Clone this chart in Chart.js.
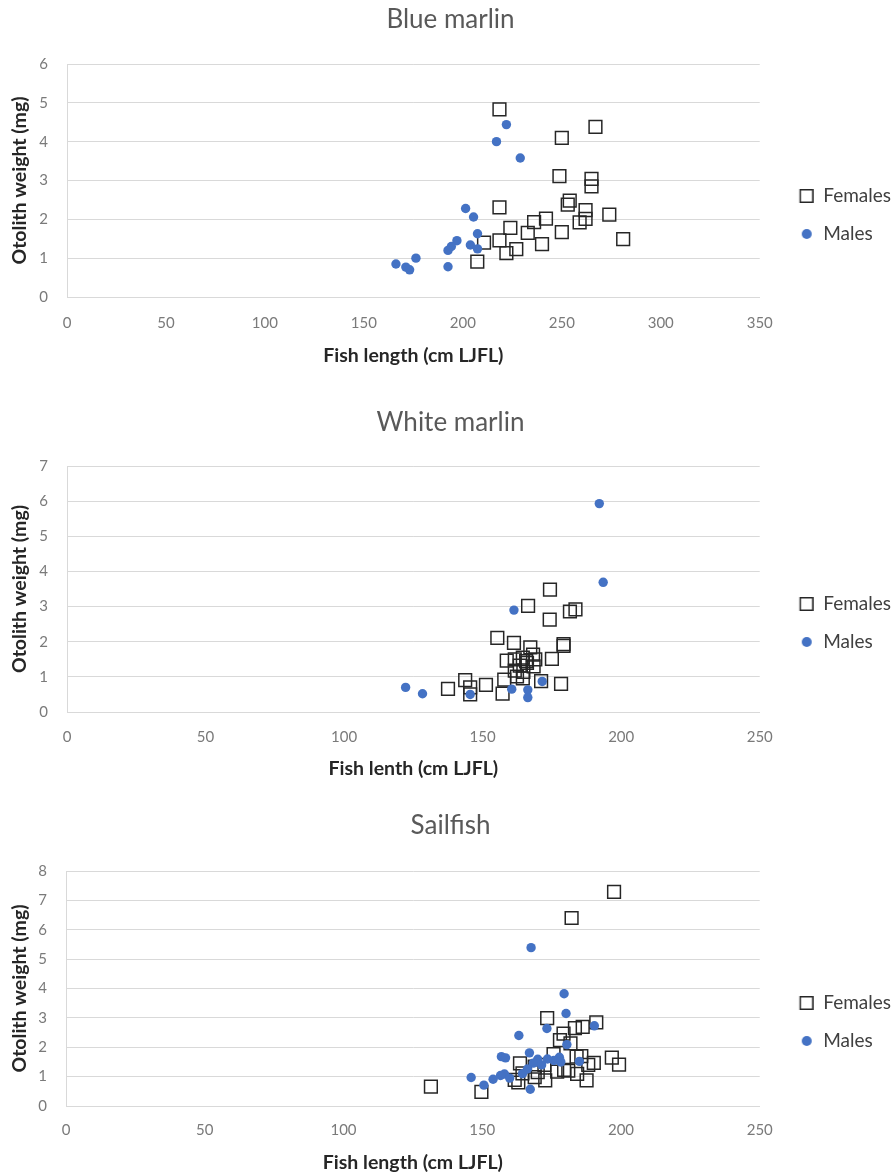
<!DOCTYPE html>
<html>
<head>
<meta charset="utf-8">
<script src="https://cdn.jsdelivr.net/npm/chart.js@4"></script>
<style>
  body { margin: 0; background: #fff; }
  canvas { position: absolute; left: 0; }
</style>
</head>
<body>
<canvas id="blue" width="893" height="380" style="top:0px"></canvas>
<canvas id="white" width="893" height="395" style="top:395px"></canvas>
<canvas id="sail" width="893" height="379" style="top:795px"></canvas>
<script>
// --- data ---
const seriesNames = ['Females', 'Males'];

const blueFemLen = [218.5, 267, 250, 248.8, 265, 265, 254, 253, 218.5, 262, 274, 242, 236, 262, 259, 224, 232.8, 250, 218.5, 210.7, 281, 240, 227, 222, 207.3];
const blueFemOto = [4.83, 4.38, 4.10, 3.11, 3.04, 2.85, 2.48, 2.38, 2.31, 2.24, 2.12, 2.02, 1.93, 2.01, 1.92, 1.78, 1.65, 1.67, 1.46, 1.40, 1.49, 1.36, 1.23, 1.13, 0.91];
const blueMaleLen = [222, 217, 229, 201.4, 205.4, 207.4, 197, 194.2, 192.5, 203.8, 207.4, 176.3, 166.2, 171.2, 173.1, 192.5];
const blueMaleOto = [4.44, 4.00, 3.58, 2.28, 2.06, 1.63, 1.45, 1.30, 1.20, 1.34, 1.24, 1.00, 0.85, 0.77, 0.70, 0.78];

const whiteFemLen = [174.3, 166.4, 183.5, 181.5, 174.2, 155.3, 161.3, 179.2, 179.2, 167.2, 168.2, 175, 164.5, 158.7, 161.6, 165.7, 168.4, 163.4, 161.6, 162.4, 164.5, 157.8, 143.7, 171.1, 178.3, 151.2, 137.5, 145.5, 145.5, 157.2, 166, 169, 164.7];
const whiteFemOto = [3.48, 3.02, 2.92, 2.86, 2.63, 2.11, 1.97, 1.93, 1.88, 1.84, 1.63, 1.51, 1.55, 1.46, 1.50, 1.45, 1.30, 1.32, 1.18, 1.01, 0.96, 0.92, 0.91, 0.88, 0.80, 0.77, 0.66, 0.70, 0.50, 0.52, 1.40, 1.50, 1.14];
const whiteMaleLen = [192.1, 193.5, 161.3, 122.2, 128.3, 145.5, 160.5, 166.3, 166.3, 171.5];
const whiteMaleOto = [5.93, 3.69, 2.90, 0.70, 0.52, 0.50, 0.65, 0.63, 0.41, 0.87];

const sailFemLen = [197.5, 182.2, 173.4, 191.1, 186.2, 183.4, 179.3, 178, 181.8, 175.7, 185.7, 196.7, 199.3, 190.2, 188.2, 163.6, 168.9, 172.4, 179.5, 181, 184.2, 187.6, 172.7, 168.9, 163, 164.5, 131.5, 149.7, 161.7, 177, 184, 170];
const sailFemOto = [7.29, 6.40, 2.99, 2.85, 2.69, 2.65, 2.46, 2.24, 2.13, 1.77, 1.70, 1.65, 1.41, 1.47, 1.40, 1.45, 1.34, 1.40, 1.23, 1.20, 1.09, 0.87, 0.87, 0.98, 0.80, 1.11, 0.66, 0.48, 0.89, 1.17, 1.68, 1.15];
const sailMaleLen = [167.6, 179.5, 180.2, 173.3, 190.4, 163.2, 180.5, 167, 156.9, 158.4, 177.8, 170, 168.4, 185, 175.8, 166.3, 164.5, 158, 146, 150.6, 153.9, 156.6, 159.9, 167.3, 171.4, 173.5, 178.3];
const sailMaleOto = [5.39, 3.82, 3.15, 2.64, 2.73, 2.40, 2.09, 1.81, 1.68, 1.64, 1.66, 1.59, 1.46, 1.52, 1.55, 1.26, 1.10, 1.09, 0.97, 0.71, 0.91, 1.04, 0.95, 0.57, 1.40, 1.60, 1.50];

// --- helpers ---
const FONT = 'Lato, "Open Sans", sans-serif';
const ICON_W = 35;

function toPoints(xs, ys) {
  return xs.map((x, i) => ({ x: x, y: ys[i] }));
}

// legend markers: square outline and blue dot, pushed to the right of a wider box
function legendIcon(kind) {
  const c = document.createElement('canvas');
  c.width = ICON_W;
  c.height = 14;
  const g = c.getContext('2d');
  if (kind === 'rect') {
    g.strokeStyle = '#262626';
    g.lineWidth = 1.5;
    g.strokeRect(ICON_W - 13.5, 0.75, 12.5, 12.5);
  } else {
    g.fillStyle = '#4472C4';
    g.beginPath();
    g.arc(ICON_W - 7, 7, 5, 0, Math.PI * 2);
    g.fill();
  }
  return c;
}
const icons = [legendIcon('rect'), legendIcon('circle')];

function makeChart(id, o) {
  new Chart(document.getElementById(id), {
    type: 'scatter',
    data: {
      datasets: [{
        label: seriesNames[0],
        data: toPoints(o.femLen, o.femOto),
        pointStyle: 'rect',
        pointRadius: 9,
        pointHoverRadius: 9,
        borderWidth: 1.5,
        borderColor: '#262626',
        backgroundColor: 'rgba(255,255,255,0)',
        order: 1
      }, {
        label: seriesNames[1],
        data: toPoints(o.maleLen, o.maleOto),
        pointStyle: 'circle',
        pointRadius: 4.7,
        pointHoverRadius: 4.7,
        borderWidth: 0,
        backgroundColor: '#4472C4',
        order: 0
      }]
    },
    options: {
      responsive: false,
      animation: false,
      layout: { padding: { left: 0, right: -8, top: 0, bottom: 0 } },
      scales: {
        x: {
          min: 0, max: o.xMax,
          ticks: { stepSize: 50, padding: o.xTickPad, color: '#7a7a7a', font: { family: FONT, size: 15 } },
          grid: { display: false, drawTicks: false },
          border: { display: true, color: '#d9d9d9' },
          title: { display: true, text: o.xTitle, color: '#262626', padding: { top: 0, bottom: o.xTitlePad }, font: { family: FONT, size: 19.5, weight: 'bold' } },
          afterFit: s => { s.height = o.xHeight; }
        },
        y: {
          min: 0, max: o.yMax,
          ticks: { stepSize: 1, padding: 19, color: '#7a7a7a', font: { family: FONT, size: 15 } },
          grid: { color: '#d9d9d9', drawTicks: false },
          border: { display: true, color: '#d9d9d9' },
          title: { display: true, text: 'Otolith weight (mg)', color: '#262626', padding: { top: 8, bottom: 0 }, font: { family: FONT, size: 19.5, weight: 'bold' } },
          afterFit: s => { s.width = o.yWidth; }
        }
      },
      plugins: {
        title: {
          display: true, text: o.title, color: '#595959',
          font: { family: FONT, size: 26, weight: 'normal' },
          padding: { top: o.titleTop, bottom: o.titleBottom }
        },
        legend: {
          position: 'right',
          title: { display: true, text: ' ', font: { size: 10 }, padding: { top: o.legendShift, bottom: 0 } },
          labels: {
            usePointStyle: true,
            pointStyleWidth: ICON_W,
            padding: 19,
            color: '#404040',
            font: { family: FONT, size: 19 },
            generateLabels: chart => chart.data.datasets.map((ds, i) => ({
              text: ds.label,
              pointStyle: icons[i],
              fillStyle: 'rgba(0,0,0,0)',
              strokeStyle: 'rgba(0,0,0,0)',
              lineWidth: 0,
              fontColor: '#404040',
              hidden: !chart.isDatasetVisible(i),
              datasetIndex: i
            }))
          }
        },
        tooltip: { enabled: false }
      }
    }
  });
}

makeChart('blue', {
  title: 'Blue marlin', xTitle: 'Fish length (cm LJFL)',
  femLen: blueFemLen, femOto: blueFemOto, maleLen: blueMaleLen, maleOto: blueMaleOto,
  xMax: 350, yMax: 6, yWidth: 67,
  titleTop: 4.4, titleBottom: 28.4,
  xHeight: 83, xTickPad: 17, xTitlePad: 13,
  legendShift: 38
});

makeChart('white', {
  title: 'White marlin', xTitle: 'Fish lenth (cm LJFL)',
  femLen: whiteFemLen, femOto: whiteFemOto, maleLen: whiteMaleLen, maleOto: whiteMaleOto,
  xMax: 250, yMax: 7, yWidth: 67,
  titleTop: 12.4, titleBottom: 27.4,
  xHeight: 78, xTickPad: 16, xTitlePad: 10,
  legendShift: 49
});

makeChart('sail', {
  title: 'Sailfish', xTitle: 'Fish length (cm LJFL)',
  femLen: sailFemLen, femOto: sailFemOto, maleLen: sailMaleLen, maleOto: sailMaleOto,
  xMax: 250, yMax: 8, yWidth: 66,
  titleTop: 15.4, titleBottom: 29.4,
  xHeight: 68, xTickPad: 15, xTitlePad: 0,
  legendShift: 63
});
</script>
</body>
</html>
